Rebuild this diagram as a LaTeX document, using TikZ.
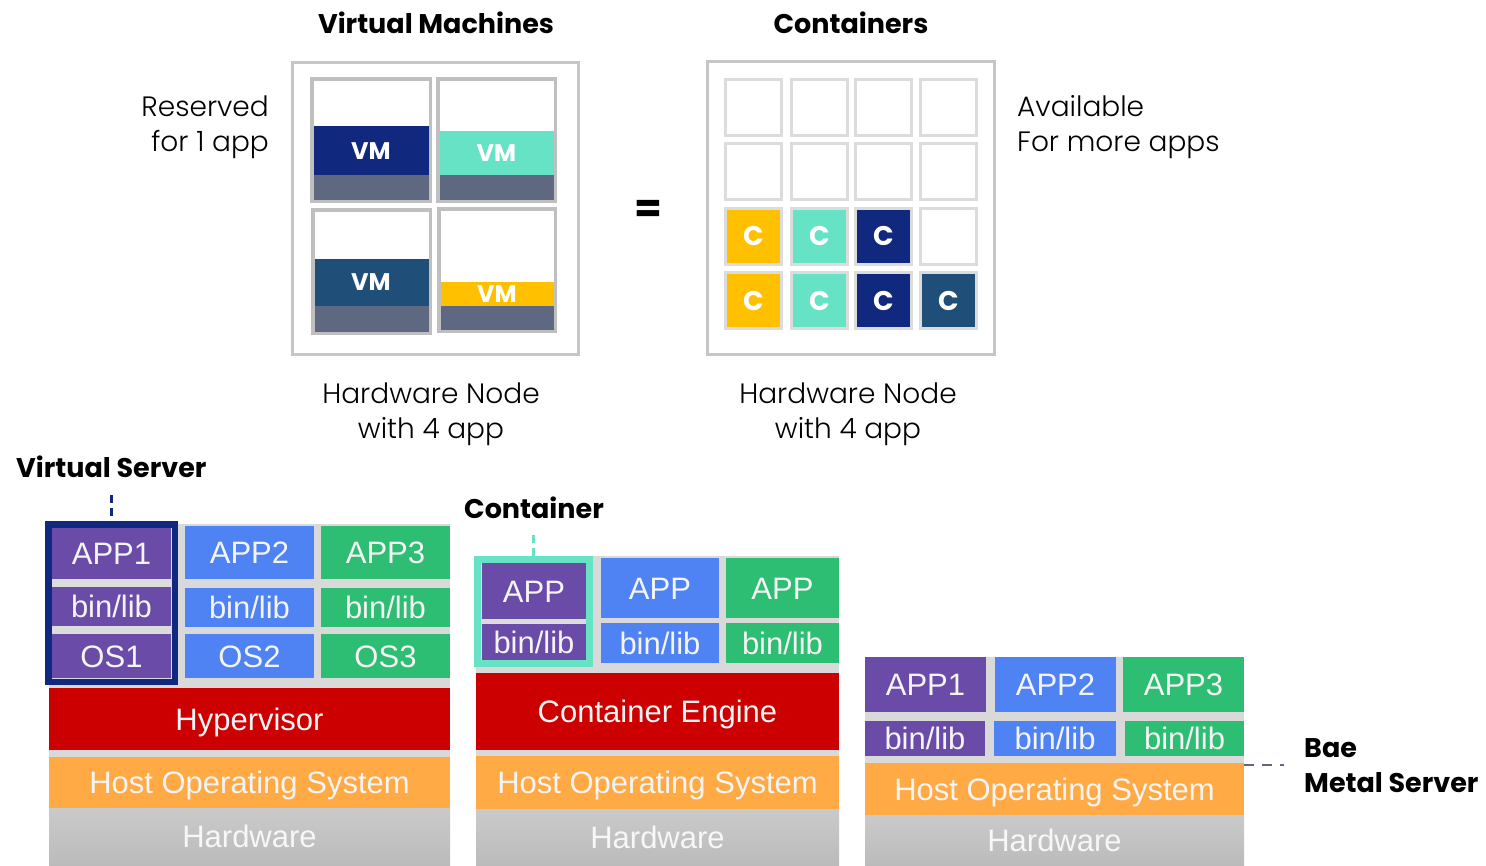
\documentclass[tikz,border=0pt]{standalone}
\usepackage{fontspec}
\setmainfont{Liberation Sans}
\newfontfamily\popfont{Poppins}
\newfontfamily\poplight{Poppins Light}
\definecolor{cnavy}{HTML}{10287D}
\definecolor{cteal}{HTML}{66E3C5}
\definecolor{cdblue}{HTML}{1F4E79}
\definecolor{cyellow}{HTML}{FFC000}
\definecolor{cslate}{HTML}{5E6880}
\definecolor{cpurple}{HTML}{6A4CA8}
\definecolor{cblue}{HTML}{4F82F2}
\definecolor{cgreen}{HTML}{2DBD73}
\definecolor{cred}{HTML}{CC0000}
\definecolor{corange}{HTML}{FFAA44}
\definecolor{cback}{HTML}{D9D9D9}
\definecolor{chwtop}{HTML}{CACACA}
\definecolor{chwbot}{HTML}{BBBBBB}
\definecolor{cframe}{HTML}{C6C6C6}
\definecolor{ccell}{HTML}{BFBFBF}
\definecolor{cgrid}{HTML}{DCDCDC}
\definecolor{ctxt}{HTML}{F4F4F4}
\tikzset{
  blk/.style={inner sep=0pt, outer sep=0pt, draw=none, text=ctxt,
    font=\fontsize{31}{36}\selectfont, text height=22pt, text depth=0pt},
  head/.style={font=\popfont\bfseries\fontsize{27}{32}\selectfont, text=black, inner sep=0pt},
  lighttxt/.style={font=\poplight\fontsize{28}{35}\selectfont, text=black, inner sep=0pt},
  vmtxt/.style={font=\popfont\bfseries\fontsize{24}{28}\selectfont, text=white, inner sep=0pt},
  ctile/.style={draw=cgrid, line width=3pt, minimum size=56pt, inner sep=0pt,
    font=\popfont\bfseries\fontsize{27}{30}\selectfont, text=white},
  outerbox/.style={draw=cframe, line width=3pt, fill=white},
  vmcell/.style={draw=ccell, line width=3.5pt, fill=white},
  conn/.style={line width=3pt, dash pattern=on 8pt off 5pt},
}
% \blk{name}{x1}{y1}{x2}{y2}{fill}{text}
\newcommand{\blk}[7]{\node[blk, fill=#6, minimum width={#4-#2}, minimum height={#5-#3}]
  (#1) at ({(#2+#4)/2},{(#3+#5)/2}) {#7};}
\newcommand{\hw}[5]{\node[blk, top color=chwtop, bottom color=chwbot, minimum width={#4-#2}, minimum height={#5-#3}, text=white!94!gray]
  (#1) at ({(#2+#4)/2},{(#3+#5)/2}) {Hardware};}
\begin{document}
\begin{tikzpicture}[x=1pt,y=-1pt]
\useasboundingbox (0,0) rectangle (1486,865);
\fill[white] (0,0) rectangle (1486,865);

% ---------- headings ----------
\node[head] (hvm) at (436,23) {Virtual Machines};
\node[head] (hct) at (851,23) {Containers};

% ---------- VM box ----------
\draw[outerbox] (292,62) rectangle (578,354);
\node[inner sep=0pt, minimum width=286pt, minimum height=292pt] (vmbox) at (435,208) {};
% cell 1
\draw[vmcell] (311.75,78.75) rectangle (430.25,201.25);
\fill[cnavy] (313.5,126) rectangle (428.5,175);
\fill[cslate] (313.5,175) rectangle (428.5,199.5);
\node[vmtxt] (vm1) at (371,151) {VM};
% cell 2
\draw[vmcell] (437.75,78.75) rectangle (555.25,201.25);
\fill[cteal] (439.5,131) rectangle (553.5,175);
\fill[cslate] (439.5,175) rectangle (553.5,199.5);
\node[vmtxt] (vm2) at (496.5,153) {VM};
% cell 3
\draw[vmcell] (312.75,209.75) rectangle (430.25,333.25);
\fill[cdblue] (314.5,259) rectangle (428.5,306);
\fill[cslate] (314.5,306) rectangle (428.5,331.5);
\node[vmtxt] (vm3) at (371,282.5) {VM};
% cell 4
\draw[vmcell] (438.75,208.75) rectangle (555.25,331.25);
\fill[cyellow] (440.5,282) rectangle (553.5,306);
\fill[cslate] (440.5,306) rectangle (553.5,329.5);
\node[vmtxt] (vm4) at (497,294) {VM};

% ---------- equals ----------
\node[font=\popfont\bfseries\fontsize{40}{40}\selectfont, inner sep=0pt] (eq) at (648,211) {=};

% ---------- Containers box ----------
\draw[outerbox] (707,61) rectangle (994,354);
\foreach \r/\cy in {1/107,2/171.5}{
  \foreach \c/\cx in {1/753.5,2/819.5,3/883.5,4/948.5}{
    \node[ctile, fill=white] (g\r\c) at (\cx,\cy) {};
  }
}
\node[ctile, fill=cyellow] (g31) at (753.5,236) {C};
\node[ctile, fill=cteal] (g32) at (819.5,236) {C};
\node[ctile, fill=cnavy] (g33) at (883.5,236) {C};
\node[ctile, fill=white] (g34) at (948.5,236) {};
\node[ctile, fill=cyellow] (g41) at (753.5,300.5) {C};
\node[ctile, fill=cteal] (g42) at (819.5,300.5) {C};
\node[ctile, fill=cnavy] (g43) at (883.5,300.5) {C};
\node[ctile, fill=cdblue] (g44) at (948.5,300.5) {C};

% ---------- side labels ----------
\node[lighttxt, anchor=east, align=right] (res) at (269,127) {Reserved\\for 1 app};
\node[lighttxt, anchor=west, align=left] (avail) at (1017,127) {Available\\For more apps};
\node[lighttxt, align=center] (hn1) at (431,414) {Hardware Node\\with 4 app};
\node[lighttxt, align=center] (hn2) at (848,414) {Hardware Node\\with 4 app};

% ---------- Virtual Server stack ----------
\node[head, anchor=west] (vslab) at (16,467) {Virtual Server};
\fill[cback] (49,524) rectangle (450,808);
\draw[cnavy, line width=6.5pt, fill=cgrid] (48.25,524.25) rectangle (174.75,681.75);
\coordinate (vsframe) at (111,521);
\blk{app1}{52}{528}{171}{579}{cpurple}{APP1}
\blk{bl1}{52}{587}{171}{626}{cpurple}{bin/lib}
\blk{os1}{52}{634}{171}{678}{cpurple}{OS1}
\blk{app2}{185}{526}{314}{579}{cblue}{APP2}
\blk{bl2}{185}{588}{314}{627}{cblue}{bin/lib}
\blk{os2}{185}{634}{314}{678}{cblue}{OS2}
\blk{app3}{321}{526}{450}{579}{cgreen}{APP3}
\blk{bl3}{321}{588}{450}{627}{cgreen}{bin/lib}
\blk{os3}{321}{634}{450}{678}{cgreen}{OS3}
\blk{hyp}{49}{688}{450}{750}{cred}{Hypervisor}
\blk{hos1}{49}{757}{450}{808}{corange}{Host Operating System}
\hw{hw1}{49}{808}{450}{865}
\coordinate (vsdash) at (111,495);
\draw[conn, cnavy] (vsdash) -- (vsframe);

% ---------- Container stack ----------
\node[head, anchor=west] (ctlab) at (464,508) {Container};
\fill[cback] (476,556) rectangle (839,809);
\draw[cteal, line width=7pt, fill=cgrid] (477.5,559.5) rectangle (589.5,663.5);
\coordinate (ctframe) at (533,556);
\blk{capp1}{482}{563}{586}{619}{cpurple}{APP}
\blk{cbl1}{482}{624}{586}{660}{cpurple}{bin/lib}
\blk{capp2}{601}{558}{719}{618}{cblue}{APP}
\blk{cbl2}{601}{623}{719}{663}{cblue}{bin/lib}
\blk{capp3}{726}{558}{839}{618}{cgreen}{APP}
\blk{cbl3}{726}{623}{839}{663}{cgreen}{bin/lib}
\blk{ceng}{476}{673}{839}{750}{cred}{Container Engine}
\blk{hos2}{476}{756}{839}{809}{corange}{Host Operating System}
\hw{hw2}{476}{809}{839}{865}
\coordinate (ctdash) at (533,535);
\draw[conn, cteal] (ctdash) -- (ctframe);

% ---------- Bare metal stack ----------
\fill[cback] (865,657) rectangle (1244,815);
\blk{bapp1}{865}{657}{986}{712}{cpurple}{APP1}
\blk{bapp2}{995}{657}{1116}{712}{cblue}{APP2}
\blk{bapp3}{1123}{657}{1244}{712}{cgreen}{APP3}
\blk{bbl1}{865}{721}{985}{756}{cpurple}{bin/lib}
\blk{bbl2}{994}{721}{1116}{756}{cblue}{bin/lib}
\blk{bbl3}{1125}{721}{1244}{756}{cgreen}{bin/lib}
\blk{hos3}{865}{763}{1244}{815}{corange}{Host Operating System}
\hw{hw3}{865}{815}{1244}{865}
\node[head, anchor=west, align=left, font=\popfont\bfseries\fontsize{27}{35}\selectfont] (bmlab) at (1304,766) {Bae\\Metal Server};
\coordinate (bmdash) at (1284,765);
\draw[cslate, line width=2pt, dash pattern=on 10pt off 8pt] (hos3.north east |- bmdash) -- (bmdash);
\end{tikzpicture}
\end{document}
